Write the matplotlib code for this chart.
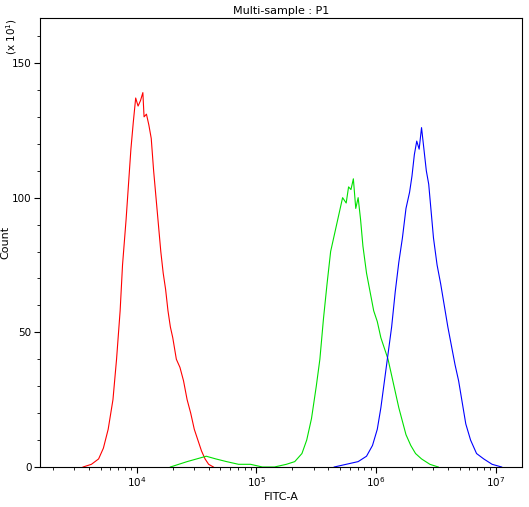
import matplotlib
matplotlib.use('Agg')
import matplotlib.pyplot as plt
import numpy as np

# log10(FITC-A), count/10
red_x = [3.55, 3.62, 3.68, 3.72, 3.76, 3.80, 3.83, 3.86, 3.88, 3.91, 3.93, 3.95, 3.97, 3.99, 4.01, 4.03, 4.05,
         4.06, 4.08, 4.10, 4.12, 4.14, 4.16, 4.18, 4.20, 4.22, 4.24, 4.26, 4.28, 4.30, 4.33, 4.36, 4.39,
         4.42, 4.45, 4.48, 4.51, 4.54, 4.57, 4.60, 4.64]
red_y = [0, 1, 3, 7, 14, 25, 40, 58, 75, 92, 105, 118, 128, 137, 134, 136, 139,
         130, 131, 127, 122, 110, 100, 90, 80, 72, 66, 58, 52, 48, 40, 37, 32,
         25, 20, 14, 10, 6, 3, 1, 0]

green_x = [4.28, 4.35, 4.42, 4.50, 4.58, 4.66, 4.75, 4.85, 4.95, 5.05, 5.15, 5.25, 5.32, 5.38, 5.42,
           5.46, 5.50, 5.53, 5.56, 5.59, 5.62, 5.65, 5.68, 5.70, 5.72, 5.75, 5.77, 5.79, 5.81, 5.83,
           5.85, 5.87, 5.89, 5.92, 5.95, 5.98, 6.01, 6.04, 6.07, 6.10, 6.13, 6.16, 6.19, 6.22, 6.25,
           6.29, 6.33, 6.38, 6.45, 6.52]
green_y = [0, 1, 2, 3, 4, 3, 2, 1, 1, 0, 0, 1, 2, 5, 10,
           18, 30, 40, 55, 68, 80, 86, 92, 96, 100, 98, 104, 103, 107, 96,
           100, 92, 82, 72, 65, 58, 54, 48, 44, 40, 34, 28, 22, 17, 12,
           8, 5, 3, 1, 0]

blue_x = [5.65, 5.75, 5.85, 5.92, 5.97, 6.01, 6.04, 6.07, 6.10, 6.13, 6.16, 6.19, 6.22, 6.25, 6.28,
          6.30, 6.32, 6.34, 6.36, 6.38, 6.40, 6.42, 6.44, 6.46, 6.48, 6.51, 6.54, 6.57, 6.60, 6.63,
          6.66, 6.69, 6.72, 6.75, 6.79, 6.84, 6.90, 6.97, 7.05]
blue_y = [0, 1, 2, 4, 8, 14, 22, 32, 42, 52, 65, 76, 85, 96, 102,
          108, 116, 121, 118, 126, 118, 110, 105, 95, 85, 75, 68, 60, 52, 45,
          38, 32, 24, 16, 10, 5, 3, 1, 0]

fig = plt.figure(figsize=(5.29, 5.07), dpi=100)
ax = fig.add_axes([40 / 529, 40 / 507, 482 / 529, 449 / 507])

ax.plot(10 ** np.array(red_x), red_y, color='red', lw=0.8)
ax.plot(10 ** np.array(green_x), green_y, color='#00e000', lw=0.8)
ax.plot(10 ** np.array(blue_x), blue_y, color='blue', lw=0.8)

ax.set_xscale('log')
ax.set_xlim(10 ** 3.19, 10 ** 7.22)
ax.set_ylim(0, 166.7)
ax.set_yticks([0, 50, 100, 150])
ax.set_yticks(np.arange(0, 167, 10), minor=True)
ax.tick_params(axis='both', which='major', direction='out', labelsize=7.5, length=4, pad=2)
ax.tick_params(axis='both', which='minor', direction='out', length=2)
ax.set_xlabel('FITC-A', fontsize=8, labelpad=2)
ax.set_ylabel('Count', fontsize=8, labelpad=1)
ax.set_title('Multi-sample : P1', fontsize=8, pad=3)
fig.text(4 / 529, 1 - 18 / 507, r'(x 10$^1$)', rotation=90, fontsize=7.5, va='top', ha='left')
fig.savefig('out.png', dpi=100)
